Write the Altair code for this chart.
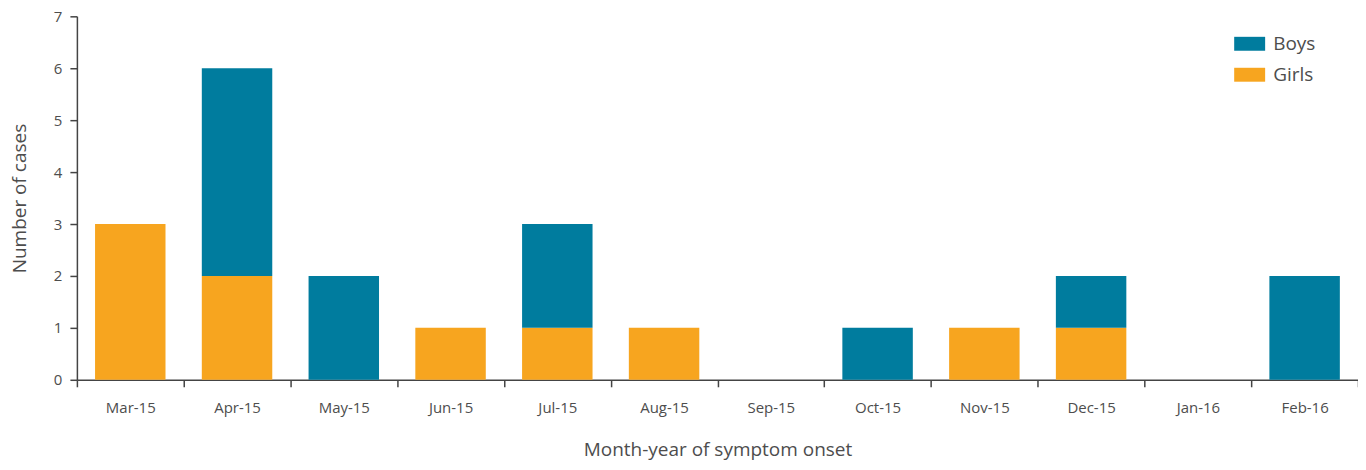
import altair as alt
import pandas as pd

months = ["Mar-15", "Apr-15", "May-15", "Jun-15", "Jul-15", "Aug-15",
          "Sep-15", "Oct-15", "Nov-15", "Dec-15", "Jan-16", "Feb-16"]
boys = [0, 4, 2, 0, 2, 0, 0, 1, 0, 1, 0, 2]
girls = [3, 2, 0, 1, 1, 1, 0, 0, 1, 1, 0, 0]
series = ["Boys", "Girls"]
colors = ["#007C9E", "#F7A51F"]

rows = []
for m, b, g in zip(months, boys, girls):
    rows.append({"month": m, "sex": "Girls", "cases": g, "ord": 0})
    rows.append({"month": m, "sex": "Boys", "cases": b, "ord": 1})
df = pd.DataFrame(rows)

font = "Open Sans"
text_color = "#4d4d4d"

chart = alt.Chart(df).mark_bar(width=alt.RelativeBandSize(0.66)).encode(
    x=alt.X("month:N", sort=months, title="Month-year of symptom onset",
            scale=alt.Scale(paddingInner=0, paddingOuter=0),
            axis=alt.Axis(labelAngle=0, tickBand="extent", labelPadding=14,
                          titlePadding=25, tickSize=7, labelFontSize=15,
                          titleFontSize=19, titleFontWeight="normal")),
    y=alt.Y("cases:Q", stack="zero", title="Number of cases",
            scale=alt.Scale(domain=[0, 7]),
            axis=alt.Axis(values=list(range(8)), tickSize=7, labelPadding=8,
                          titlePadding=24, labelFontSize=15, titleFontSize=19,
                          titleFontWeight="normal", grid=False)),
    color=alt.Color("sex:N", sort=series,
                    scale=alt.Scale(domain=series, range=colors),
                    legend=alt.Legend(title=None, orient="none", legendX=1159,
                                      legendY=12, symbolType="M-1,-0.45H1V0.45H-1Z",
                                      symbolSize=961, symbolStrokeWidth=0,
                                      labelFontSize=19, labelOffset=8,
                                      rowPadding=5)),
    order=alt.Order("ord:Q"),
).properties(
    width=1283, height=364,
    autosize=alt.AutoSizeParams(type="none"),
    padding={"left": 69, "top": 8, "right": 0, "bottom": 82},
).configure_view(stroke=None).configure_axis(
    labelFont=font, titleFont=font, labelColor=text_color, titleColor=text_color,
    domainColor="#444444", tickColor="#444444", domainWidth=1.5, tickWidth=1.5,
).configure_legend(labelFont=font, labelColor=text_color)

chart.save("out.html", embed_options={"renderer": "svg", "actions": False})
